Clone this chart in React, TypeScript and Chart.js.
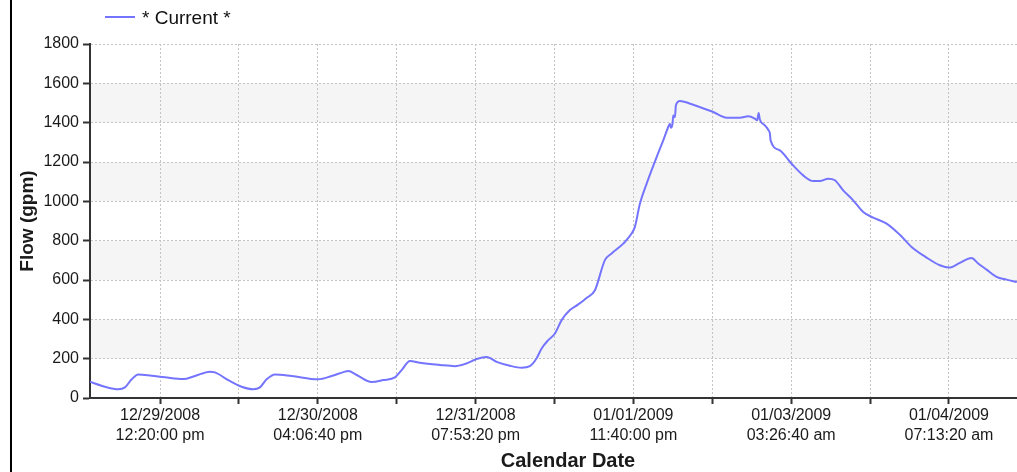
import React, { useEffect, useRef } from "react";
import { Chart, registerables } from "chart.js";

Chart.register(...registerables);

// Hours since 12/29/2008 00:00
const HOURS = [
  0.0, 2.64, 4.98, 6.16, 7.34, 8.5, 10.86, 13.2, 16.42, 18.48, 21.12, 22.0, 24.34, 26.7,
  28.75, 29.92, 31.1, 32.56, 35.5, 40.19, 42.55, 44.89, 45.47, 46.95, 49.59, 51.63, 53.69,
  54.87, 56.33, 58.09, 61.61, 64.25, 66.01, 68.07, 69.83, 71.59, 73.93, 75.99, 77.45, 78.63,
  79.51, 80.67, 81.85, 83.03, 84.49, 85.9, 87.48, 88.89, 90.65, 91.83, 93.88, 95.35, 95.93,
  96.81, 98.0, 99.76, 100.92, 101.8, 102.1, 102.27, 102.57, 102.68, 102.98, 103.15, 103.85,
  104.73, 107.37, 109.72, 112.08, 114.42, 115.88, 117.06, 117.46, 117.71, 117.94, 118.82,
  119.4, 119.7, 119.82, 121.46, 123.52, 125.56, 127.32, 128.5, 129.96, 131.14, 132.6,
  134.36, 136.12, 137.88, 140.24, 142.58, 144.64, 147.28, 149.62, 151.26, 153.14, 155.2,
  156.36, 157.84, 159.6, 161.36, 163.17,
];

// Flow (gpm)
const FLOW = [
  83, 57, 44, 54, 95, 120, 113, 105, 96, 112, 134, 130, 91, 57,
  44, 54, 95, 120, 112, 95, 112, 134, 137, 117, 81, 91, 105,
  142, 188, 179, 168, 162, 173, 198, 208, 184, 164, 154, 162, 202,
  252, 294, 328, 396, 447, 475, 510, 548, 701, 735, 785, 836, 870,
  988, 1090, 1225, 1310, 1378, 1395, 1374, 1398, 1437, 1428, 1488, 1510,
  1505, 1479, 1454, 1425, 1425, 1432, 1420, 1412, 1449, 1415, 1386,
  1364, 1344, 1310, 1259, 1191, 1132, 1103, 1103, 1115, 1107, 1056,
  1005, 946, 917, 887, 830, 768, 714, 675, 663, 687, 712,
  684, 653, 616, 602, 590,
];

const TICK_HOURS = [
  12.3333, 26.2222, 40.1111, 54.0, 67.8889, 81.7778, 95.6667, 109.5556, 123.4444, 137.3333,
  151.2222,
];

const TICK_LABELS: (string[] | string)[] = [
  ["12/29/2008", "12:20:00 pm"], "",
  ["12/30/2008", "04:06:40 pm"], "",
  ["12/31/2008", "07:53:20 pm"], "",
  ["01/01/2009", "11:40:00 pm"], "",
  ["01/03/2009", "03:26:40 am"], "",
  ["01/04/2009", "07:13:20 am"],
];

const SHADED_BANDS = [
  [200, 400],
  [600, 800],
  [1000, 1200],
  [1400, 1600],
];

const SERIES_NAME = "* Current *";
const X_TITLE = "Calendar Date";
const Y_TITLE = "Flow (gpm)";
const X_MAX = 163.2;

const LINE_COLOR = "#7474ff";
const FONT = "'Liberation Sans', Arial, sans-serif";

export default function App() {
  const ref = useRef<HTMLCanvasElement | null>(null);

  useEffect(() => {
    if (!ref.current) return;

    const decor = {
      id: "decor",
      beforeDraw(chart: any) {
        const { ctx, chartArea, scales } = chart;
        const y = scales.y;
        ctx.save();
        ctx.fillStyle = "#f5f5f5";
        for (const [a, b] of SHADED_BANDS) {
          const top = y.getPixelForValue(b);
          const bot = y.getPixelForValue(a);
          ctx.fillRect(chartArea.left, top, chartArea.right - chartArea.left, bot - top);
        }
        ctx.restore();
      },
      afterDraw(chart: any) {
        const { ctx } = chart;
        ctx.save();
        // left frame line
        ctx.fillStyle = "#000";
        ctx.fillRect(10, 0, 2, 472);
        // legend
        ctx.strokeStyle = LINE_COLOR;
        ctx.lineWidth = 2;
        ctx.beginPath();
        ctx.moveTo(105, 17);
        ctx.lineTo(135, 17);
        ctx.stroke();
        ctx.fillStyle = "#111";
        ctx.font = `19px ${FONT}`;
        ctx.textAlign = "left";
        ctx.textBaseline = "alphabetic";
        ctx.fillText(SERIES_NAME, 142, 24);
        // x title
        ctx.font = `bold 20px ${FONT}`;
        ctx.fillStyle = "#1a1a1a";
        ctx.textAlign = "center";
        ctx.fillText(X_TITLE, 568, 467);
        // y title
        ctx.font = `bold 19px ${FONT}`;
        ctx.translate(33, 221);
        ctx.rotate(-Math.PI / 2);
        ctx.fillText(Y_TITLE, 0, 0);
        ctx.restore();
      },
    };

    const chart = new Chart(ref.current, {
      type: "line",
      data: {
        datasets: [
          {
            label: SERIES_NAME,
            data: HOURS.map((h, i) => ({ x: h, y: FLOW[i] })),
            borderColor: LINE_COLOR,
            backgroundColor: LINE_COLOR,
            borderWidth: 2,
            pointRadius: 0,
            cubicInterpolationMode: "monotone",
            fill: false,
          },
        ],
      },
      options: {
        animation: false,
        responsive: false,
        maintainAspectRatio: false,
        layout: { padding: { top: 44, left: 0, right: 0, bottom: 0 } },
        plugins: {
          legend: { display: false },
          tooltip: { enabled: false },
        },
        scales: {
          x: {
            type: "linear",
            min: 0,
            max: X_MAX,
            afterFit(scale: any) {
              scale.height = 74;
            },
            afterBuildTicks(scale: any) {
              scale.ticks = TICK_HOURS.map((v) => ({ value: v }));
            },
            ticks: {
              autoSkip: false,
              maxRotation: 0,
              minRotation: 0,
              padding: 1,
              color: "#1a1a1a",
              font: { family: FONT, size: 16, lineHeight: 1.28 },
              callback: (_v: any, i: number) => TICK_LABELS[i] as any,
            },
            grid: {
              color: "#c4c4c4",
              lineWidth: 1,
              tickLength: 6,
              tickColor: "#333",
              tickWidth: 2,
            },
            border: { display: true, color: "#333", width: 2, dash: [2, 2] },
          },
          y: {
            min: 0,
            max: 1800,
            afterFit(scale: any) {
              scale.width = 90;
            },
            ticks: {
              stepSize: 200,
              padding: 4,
              color: "#1a1a1a",
              font: { family: FONT, size: 16 },
              callback: (v: any) => String(v),
            },
            grid: {
              color: "#c4c4c4",
              lineWidth: 1,
              tickLength: 7,
              tickColor: "#333",
              tickWidth: 2,
            },
            border: { display: true, color: "#333", width: 2, dash: [2, 2] },
          },
        },
      },
      plugins: [decor],
    } as any);

    return () => chart.destroy();
  }, []);

  return (
    <div style={{ position: "fixed", left: 0, top: 0, width: 1017, height: 472, background: "#fff" }}>
      <canvas ref={ref} width={1017} height={472} style={{ display: "block", width: 1017, height: 472 }} />
    </div>
  );
}
